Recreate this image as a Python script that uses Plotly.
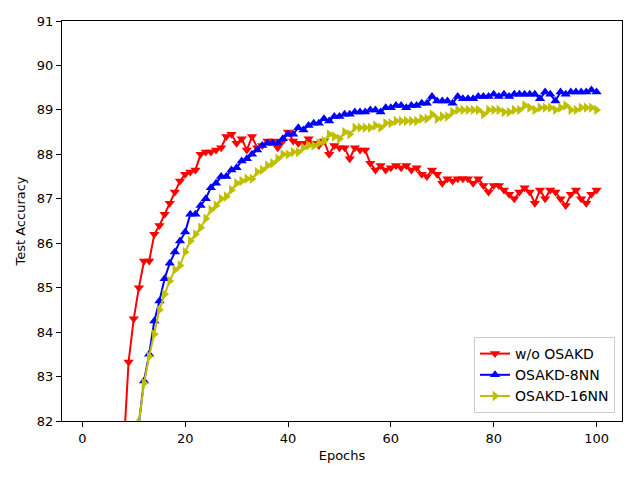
import plotly.graph_objects as go

epochs = list(range(1, 101))

# w/o OSAKD
acc_base = [40.0, 52.0, 61.0, 67.5, 72.0, 75.5, 78.3, 81.3, 83.33, 84.3,
            85.0, 85.6, 85.6, 86.2, 86.4, 86.65, 86.9, 87.15, 87.4, 87.55,
            87.6, 87.65, 88.0, 88.05, 88.05, 88.1, 88.15, 88.4, 88.45, 88.25,
            88.35, 88.1, 88.4, 88.15, 88.2, 88.3, 88.3, 88.15, 88.3, 88.5,
            88.3, 88.25, 88.25, 88.35, 88.25, 88.2, 88.3, 88.0, 88.2, 88.15,
            88.15, 87.9, 88.15, 88.1, 88.1, 87.8, 87.65, 87.75, 87.65, 87.7,
            87.75, 87.7, 87.75, 87.65, 87.7, 87.55, 87.5, 87.65, 87.55, 87.35,
            87.45, 87.4, 87.45, 87.45, 87.45, 87.35, 87.45, 87.3, 87.15, 87.3,
            87.3, 87.2, 87.1, 87.0, 87.15, 87.25, 87.15, 86.9, 87.2, 87.0,
            87.2, 87.15, 87.0, 86.85, 87.1, 87.2, 87.0, 86.9, 87.1, 87.2]

# OSAKD-8NN
acc_8nn = [30.0, 40.0, 48.0, 55.0, 61.0, 66.0, 70.0, 73.5, 76.5, 79.0,
           81.95, 82.9, 83.5, 84.25, 84.7, 85.2, 85.55, 85.8, 86.05, 86.25,
           86.65, 86.65, 86.85, 87.0, 87.25, 87.35, 87.5, 87.5, 87.65, 87.7,
           87.85, 87.9, 88.0, 88.1, 88.2, 88.25, 88.25, 88.25, 88.35, 88.45,
           88.45, 88.6, 88.55, 88.65, 88.7, 88.7, 88.8, 88.75, 88.85, 88.85,
           88.9, 88.9, 88.95, 88.95, 88.95, 89.0, 89.0, 88.95, 89.05, 89.05,
           89.1, 89.1, 89.05, 89.1, 89.1, 89.15, 89.15, 89.3, 89.2, 89.2,
           89.2, 89.15, 89.3, 89.25, 89.25, 89.25, 89.3, 89.3, 89.3, 89.35,
           89.3, 89.35, 89.3, 89.35, 89.35, 89.35, 89.35, 89.35, 89.25, 89.4,
           89.35, 89.2, 89.4, 89.35, 89.4, 89.4, 89.4, 89.4, 89.45, 89.4]

# OSAKD-16NN
acc_16nn = [30.0, 40.0, 48.0, 55.0, 61.0, 66.0, 70.0, 73.5, 76.5, 79.0,
            81.95, 82.85, 83.45, 83.95, 84.5, 84.85, 85.15, 85.4, 85.5, 85.8,
            86.05, 86.2, 86.35, 86.55, 86.75, 86.85, 87.0, 87.05, 87.2, 87.35,
            87.4, 87.45, 87.45, 87.6, 87.65, 87.75, 87.8, 87.9, 88.0, 88.0,
            88.05, 88.05, 88.15, 88.2, 88.2, 88.25, 88.3, 88.45, 88.4, 88.35,
            88.5, 88.45, 88.6, 88.6, 88.6, 88.6, 88.65, 88.6, 88.7, 88.7,
            88.75, 88.75, 88.75, 88.75, 88.75, 88.8, 88.8, 88.9, 88.8, 88.85,
            88.85, 88.95, 89.0, 89.0, 89.0, 89.0, 89.0, 88.9, 89.0, 89.0,
            89.0, 88.95, 88.95, 89.0, 89.0, 89.1, 89.05, 89.0, 89.05, 89.05,
            89.05, 89.0, 89.05, 89.1, 89.0, 89.0, 89.05, 89.05, 89.05, 89.0]

fig = go.Figure()
fig.add_trace(go.Scatter(x=epochs, y=acc_base, mode='lines+markers', name='w/o OSAKD',
                         line=dict(color='#ff0000', width=2),
                         marker=dict(symbol='triangle-down', size=9, color='#ff0000')))
fig.add_trace(go.Scatter(x=epochs, y=acc_8nn, mode='lines+markers', name='OSAKD-8NN',
                         line=dict(color='#0000ff', width=2),
                         marker=dict(symbol='triangle-up', size=9, color='#0000ff')))
fig.add_trace(go.Scatter(x=epochs, y=acc_16nn, mode='lines+markers', name='OSAKD-16NN',
                         line=dict(color='#bfbf00', width=2),
                         marker=dict(symbol='triangle-right', size=9, color='#bfbf00')))

axis_style = dict(showline=True, linecolor='black', linewidth=1, mirror=True,
                  ticks='outside', ticklen=5, tickcolor='black', showgrid=False,
                  zeroline=False, automargin=False,
                  tickfont=dict(size=13, color='black'))

fig.update_layout(
    width=640, height=480,
    margin=dict(l=62, r=18, t=21, b=59),
    paper_bgcolor='white', plot_bgcolor='white',
    font=dict(family='DejaVu Sans', size=13, color='black'),
    xaxis=dict(range=[-3.95, 104.95], tickvals=[0, 20, 40, 60, 80, 100],
               title=dict(text='Epochs', standoff=6, font=dict(size=13)), **axis_style),
    yaxis=dict(range=[82, 91], dtick=1,
               title=dict(text='Test Accuracy', standoff=8, font=dict(size=13)), **axis_style),
    legend=dict(x=0.9875, y=0.02, xanchor='right', yanchor='bottom',
                bgcolor='white', bordercolor='#cccccc', borderwidth=1,
                font=dict(size=14), tracegroupgap=2),
    showlegend=True,
)

fig.write_html("out.html", config={'displayModeBar': False},
               post_script="document.body.style.margin='0';")
